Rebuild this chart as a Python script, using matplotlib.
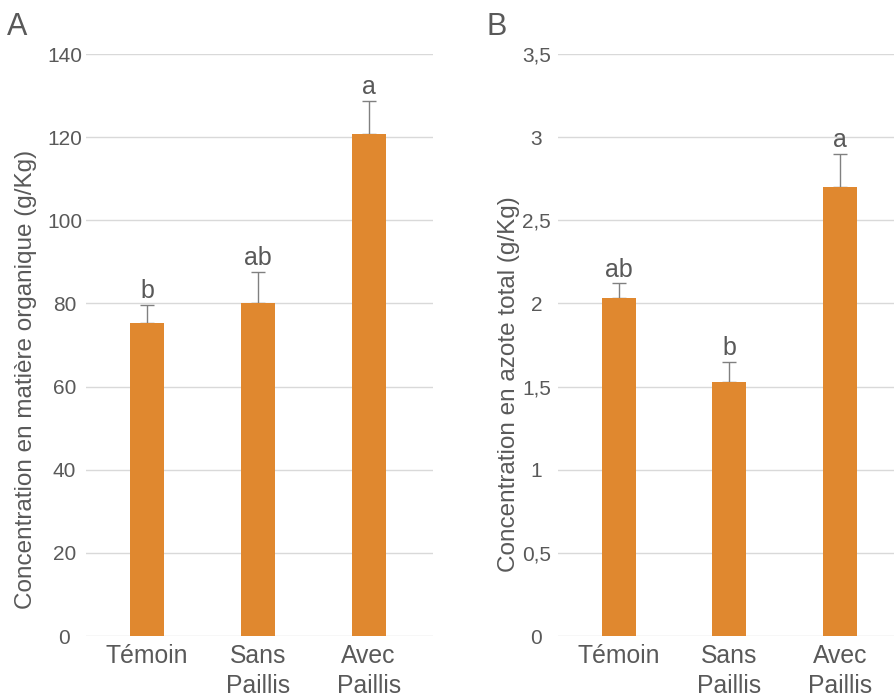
import numpy as np
import matplotlib
matplotlib.use('Agg')
import matplotlib.pyplot as plt

plt.rcParams['font.family'] = ['Liberation Sans', 'DejaVu Sans']

# Data
categories = ['Témoin', 'Sans\nPaillis', 'Avec\nPaillis']

mo_values = [75.2, 80.0, 120.8]      # matière organique (g/Kg)
mo_err = [4.4, 7.5, 7.8]
mo_letters = ['b', 'ab', 'a']
mo_ticks = [0, 20, 40, 60, 80, 100, 120, 140]
mo_ticklabels = ['0', '20', '40', '60', '80', '100', '120', '140']

n_values = [2.03, 1.53, 2.70]        # azote total (g/Kg)
n_err = [0.09, 0.12, 0.20]
n_letters = ['ab', 'b', 'a']
n_ticks = [0, 0.5, 1, 1.5, 2, 2.5, 3, 3.5]
n_ticklabels = ['0', '0,5', '1', '1,5', '2', '2,5', '3', '3,5']

bar_color = '#E0882F'
text_color = '#595959'
grid_color = '#d9d9d9'
err_color = '#808080'

W, H = 895, 698
fig = plt.figure(figsize=(W / 100, H / 100), dpi=100)


def make_panel(rect, values, err, letters, ticks, ticklabels, ylabel,
               label_pos, xlim, letter, letter_x):
    ax = fig.add_axes(rect)
    x = np.arange(len(values))
    ax.bar(x, values, width=0.31, color=bar_color, zorder=3)
    # upper error bars only; lower cap hidden behind the bar
    ax.errorbar(x, values, yerr=[np.zeros(len(err)), err], fmt='none',
                ecolor=err_color, elinewidth=1.0, capsize=4.7, capthick=1.0,
                zorder=2)
    for xi, v, e, lab in zip(x, values, err, letters):
        ax.annotate(lab, (xi, v + e), xytext=(0, 5), textcoords='offset points',
                    ha='center', va='baseline', fontsize=18, color=text_color)
    ax.set_ylim(ticks[0], ticks[-1])
    ax.set_xlim(*xlim)
    ax.set_yticks(ticks)
    ax.set_yticklabels(ticklabels)
    ax.set_xticks(x)
    ax.set_xticklabels(categories, linespacing=1.3)
    for sp in ax.spines.values():
        sp.set_visible(False)
    ax.grid(axis='y', color=grid_color, linewidth=1.0, zorder=0)
    ax.set_axisbelow(True)
    ax.tick_params(axis='y', length=0, pad=15.5, labelsize=15,
                   labelcolor=text_color)
    ax.tick_params(axis='x', length=0, pad=6, labelsize=17.8,
                   labelcolor=text_color)
    for t in ax.get_yticklabels():
        t.set_horizontalalignment('center')
    ax.set_ylabel(ylabel, fontsize=17.5, color=text_color)
    ax.yaxis.set_label_coords(*label_pos)
    fig.text(letter_x, 1 - 12 / H, letter, fontsize=22, color=text_color,
             ha='left', va='top')
    return ax


# Panel A
make_panel([86 / W, 62 / H, 347 / W, 582 / H], mo_values, mo_err, mo_letters,
           mo_ticks, mo_ticklabels,
           'Concentration en matière organique (g/Kg)',
           (-0.141, 0.44), (-0.55, 2.58), 'A', 7 / W)

# Panel B
make_panel([558 / W, 62 / H, 337 / W, 582 / H], n_values, n_err, n_letters,
           n_ticks, n_ticklabels,
           'Concentration en azote total (g/Kg)',
           (-0.113, 0.433), (-0.55, 2.5), 'B', 487 / W)

plt.savefig('out.png', dpi=100)
